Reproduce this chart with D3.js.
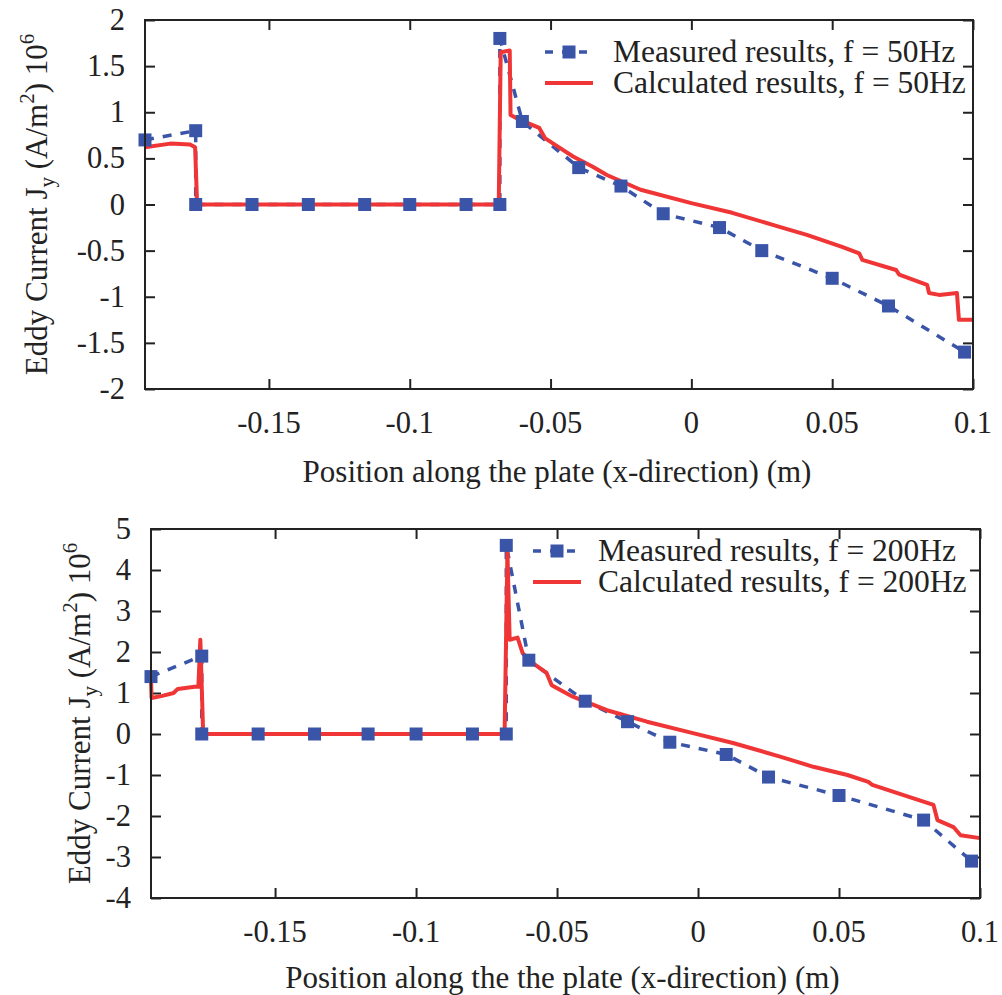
<!DOCTYPE html>
<head>
<meta charset="utf-8">
<script src="https://d3js.org/d3.v7.min.js"></script>
<style>
  body { margin: 0; background: #fff; }
  svg { font-family: "Liberation Serif", "Times New Roman", serif; }
  .frame { fill: none; stroke: #222; stroke-width: 2px; }
  .tick line { stroke: #222; stroke-width: 2px; }
  .measured { fill: none; stroke: #3a55a8; stroke-width: 3.5px; stroke-dasharray: 9,9; }
  .calc { fill: none; stroke: #ef3535; stroke-width: 4px; stroke-linejoin: round; }
  .marker { fill: #3a55a8; }
</style>
</head>
<body>
<svg width="1002" height="995"></svg>

<script>
// x ticks shared by both panels
var xTicks = [-0.15, -0.1, -0.05, 0, 0.05, 0.1];
var xTickLabels = ["-0.15", "-0.1", "-0.05", "0", "0.05", "0.1"];

// top panel, f = 50Hz
var measX50 = [-0.194, -0.176, -0.176, -0.156, -0.136, -0.116, -0.1, -0.08, -0.068, -0.068, -0.06, -0.04, -0.025, -0.01, 0.01, 0.025, 0.05, 0.07, 0.097];
var measY50 = [0.7, 0.8, 0, 0, 0, 0, 0, 0, 0, 1.8, 0.9, 0.4, 0.2, -0.1, -0.25, -0.5, -0.8, -1.1, -1.6];
var calcX50 = [-0.194, -0.185, -0.178, -0.1762, -0.1755, -0.0684, -0.0677, -0.0645, -0.0642, -0.061, -0.054, -0.052, -0.047, -0.042, -0.035, -0.030, -0.018, 0, 0.0145, 0.031, 0.041, 0.0535, 0.0596, 0.0607, 0.0727, 0.0738, 0.0837, 0.0844, 0.088, 0.0943, 0.095, 0.1];
var calcY50 = [0.62, 0.66, 0.65, 0.62, 0, 0, 1.65, 1.67, 0.97, 0.92, 0.83, 0.72, 0.62, 0.52, 0.41, 0.32, 0.16, 0.015, -0.09, -0.24, -0.33, -0.46, -0.53, -0.60, -0.71, -0.76, -0.87, -0.96, -0.98, -0.96, -1.25, -1.25];
var yTicks50 = [-2, -1.5, -1, -0.5, 0, 0.5, 1, 1.5, 2];
var yTickLabels50 = ["-2", "-1.5", "-1", "-0.5", "0", "0.5", "1", "1.5", "2"];

// bottom panel, f = 200Hz
var measX200 = [-0.194, -0.176, -0.176, -0.156, -0.136, -0.117, -0.1, -0.08, -0.068, -0.068, -0.06, -0.04, -0.025, -0.01, 0.01, 0.025, 0.05, 0.08, 0.097];
var measY200 = [1.4, 1.9, 0, 0, 0, 0, 0, 0, 0, 4.6, 1.8, 0.8, 0.3, -0.2, -0.5, -1.05, -1.5, -2.1, -3.1];
var calcX200 = [-0.194, -0.1938, -0.190, -0.186, -0.1845, -0.1785, -0.1772, -0.1765, -0.1755, -0.0686, -0.0676, -0.0668, -0.064, -0.0622, -0.0586, -0.0537, -0.0519, -0.0444, -0.0323, -0.0181, -0.0018, 0.0124, 0.0291, 0.0409, 0.053, 0.0604, 0.0618, 0.0729, 0.0835, 0.0849, 0.0906, 0.0931, 0.1];
var calcY200 = [1.3, 0.88, 0.93, 1.0, 1.1, 1.15, 1.15, 2.3, 0, 0, 4.45, 2.3, 2.35, 1.97, 1.73, 1.49, 1.19, 0.91, 0.58, 0.30, 0.02, -0.22, -0.55, -0.80, -1.0, -1.17, -1.24, -1.49, -1.73, -2.1, -2.27, -2.47, -2.54];
var yTicks200 = [-4, -3, -2, -1, 0, 1, 2, 3, 4, 5];
var yTickLabels200 = ["-4", "-3", "-2", "-1", "0", "1", "2", "3", "4", "5"];

var svg = d3.select("svg");

function panel(o) {
  var g = svg.append("g");
  var x = d3.scaleLinear().domain([-0.194, 0.1]).range([o.left, o.right]);
  var y = d3.scaleLinear().domain(o.yDomain).range([o.bottom, o.top]);
  var w = o.right - o.left, h = o.bottom - o.top;

  // inward ticks on all four sides, labels only bottom/left
  g.append("g").attr("transform", "translate(0," + o.bottom + ")")
    .call(d3.axisBottom(x).tickValues(xTicks).tickSize(-10).tickFormat(""))
    .call(a => a.select(".domain").remove());
  g.append("g").attr("transform", "translate(0," + o.top + ")")
    .call(d3.axisTop(x).tickValues(xTicks).tickSize(-10).tickFormat(""))
    .call(a => a.select(".domain").remove());
  g.append("g").attr("transform", "translate(" + o.left + ",0)")
    .call(d3.axisLeft(y).tickValues(o.yTicks).tickSize(-10).tickFormat(""))
    .call(a => a.select(".domain").remove());
  g.append("g").attr("transform", "translate(" + o.right + ",0)")
    .call(d3.axisRight(y).tickValues(o.yTicks).tickSize(-10).tickFormat(""))
    .call(a => a.select(".domain").remove());

  g.selectAll(".xl").data(xTicks).enter().append("text")
    .attr("x", d => x(d)).attr("y", o.bottom + 44)
    .attr("text-anchor", "middle").attr("font-size", 30.5).attr("fill", "#222")
    .text((d, i) => xTickLabels[i]);
  g.selectAll(".yl").data(o.yTicks).enter().append("text")
    .attr("x", o.left - 20).attr("y", d => y(d) + 10)
    .attr("text-anchor", "end").attr("font-size", 30.5).attr("fill", "#222")
    .text((d, i) => o.yTickLabels[i]);

  // measured: dashed line + squares
  var line = d3.line().x(d => x(d[0])).y(d => y(d[1]));
  var mPts = o.measX.map((d, i) => [d, o.measY[i]]);
  var cPts = o.calcX.map((d, i) => [d, o.calcY[i]]);
  g.append("path").datum(mPts).attr("class", "measured").attr("d", line);
  g.append("path").datum(cPts).attr("class", "calc").attr("d", line);
  g.selectAll(".marker").data(mPts).enter().append("rect").attr("class", "marker")
    .attr("x", d => x(d[0]) - 6.5).attr("y", d => y(d[1]) - 6.5)
    .attr("width", 13).attr("height", 13);

  g.append("rect").attr("class", "frame")
    .attr("x", o.left).attr("y", o.top).attr("width", w).attr("height", h);

  // legend
  var L = o.legend;
  g.append("line").attr("class", "measured").style("stroke-dasharray", "8,9")
    .attr("x1", L.x).attr("x2", L.x + 48).attr("y1", L.y).attr("y2", L.y);
  g.append("rect").attr("class", "marker")
    .attr("x", L.x + 24 - 6.5).attr("y", L.y - 6.5).attr("width", 13).attr("height", 13);
  g.append("line").attr("class", "calc")
    .attr("x1", L.x).attr("x2", L.x + 48).attr("y1", L.y + 31).attr("y2", L.y + 31);
  g.append("text").attr("x", L.tx).attr("y", L.y + 10).attr("font-size", 31.5).attr("fill", "#222")
    .text(o.names[0]);
  g.append("text").attr("x", L.tx).attr("y", L.y + 41).attr("font-size", 31.5).attr("fill", "#222")
    .text(o.names[1]);

  // axis titles
  g.append("text").attr("x", (o.left + o.right) / 2 + o.titleShift).attr("y", o.bottom + o.titleGap)
    .attr("text-anchor", "middle").attr("font-size", 31).attr("fill", "#222")
    .text(o.xTitle);
  var yl = g.append("text")
    .attr("transform", "translate(" + o.yLabelX + "," + (o.top + o.bottom) / 2 + ") rotate(-90)")
    .attr("text-anchor", "middle").attr("font-size", 31).attr("fill", "#222");
  yl.append("tspan").text("Eddy Current J");
  yl.append("tspan").attr("font-size", 21).attr("dy", 7).text("y");
  yl.append("tspan").attr("dy", -7).text(" (A/m");
  yl.append("tspan").attr("font-size", 21).attr("dy", -13).text("2");
  yl.append("tspan").attr("dy", 13).text(") 10");
  yl.append("tspan").attr("font-size", 21).attr("dy", -13).text("6");
}

panel({
  left: 145, right: 973, top: 20, bottom: 389,
  yDomain: [-2, 2], yTicks: yTicks50, yTickLabels: yTickLabels50,
  measX: measX50, measY: measY50, calcX: calcX50, calcY: calcY50,
  legend: { x: 545, y: 52, tx: 613 },
  names: ["Measured results, f = 50Hz", "Calculated results, f = 50Hz"],
  xTitle: "Position along the plate (x-direction) (m)", titleGap: 93, titleShift: -2,
  yLabelX: 47
});

panel({
  left: 151, right: 980, top: 529, bottom: 898,
  yDomain: [-4, 5], yTicks: yTicks200, yTickLabels: yTickLabels200,
  measX: measX200, measY: measY200, calcX: calcX200, calcY: calcY200,
  legend: { x: 533, y: 551, tx: 598 },
  names: ["Measured results, f = 200Hz", "Calculated results, f = 200Hz"],
  xTitle: "Position along the the plate (x-direction) (m)", titleGap: 90, titleShift: -3,
  yLabelX: 90
});
</script>
</body>
</html>
